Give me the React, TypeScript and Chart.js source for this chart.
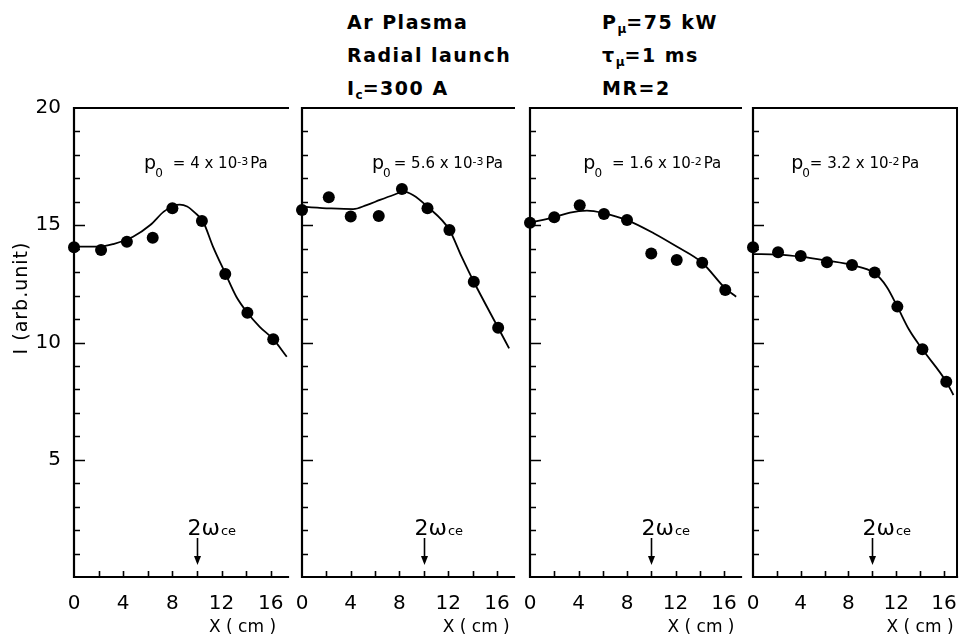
import React, { useEffect, useRef } from 'react';
import { Chart, registerables } from 'chart.js';

Chart.register(...registerables);

const FONT = '"DejaVu Sans", sans-serif';

// ---- axes ----
const X_TICKS = [0, 2, 4, 6, 8, 10, 12, 14, 16];
const Y_LABEL_TICKS = [5, 10, 15, 20];
const Y_MIN = 0;
const Y_MAX = 20;
const X_TITLE = 'X ( cm )';
const Y_TITLE = 'I (arb.unit)';
const RES_X = 10; // 2ωce position (cm)

// ---- panel 1 : p0 = 4 x 10^-3 Pa ----
const P1_X = [0, 2.2, 4.3, 6.4, 8.0, 10.4, 12.3, 14.1, 16.2];
const P1_Y = [14.06, 13.94, 14.3, 14.47, 15.72, 15.18, 12.92, 11.27, 10.14];
const P1_CX = [0, 2.1, 3.2, 4.8, 6.2, 7.3, 8.1, 8.6, 9.2, 9.8, 10.5, 11.3, 12.3, 13.2, 14.1, 15.1, 16.2, 17.3];
const P1_CY = [14.09, 14.09, 14.2, 14.51, 15.01, 15.58, 15.83, 15.88, 15.8, 15.55, 15.15, 14.09, 12.95, 11.95, 11.27, 10.67, 10.14, 9.39];

// ---- panel 2 : p0 = 5.6 x 10^-3 Pa ----
const P2_X = [0, 2.2, 4.0, 6.3, 8.2, 10.3, 12.1, 14.1, 16.1];
const P2_Y = [15.65, 16.19, 15.37, 15.39, 16.55, 15.72, 14.8, 12.59, 10.63];
const P2_CX = [0, 2.3, 4.2, 5.3, 6.4, 7.5, 8.3, 9.1, 10.3, 12.1, 13.1, 14.1, 16.1, 17.0];
const P2_CY = [15.79, 15.72, 15.69, 15.86, 16.08, 16.29, 16.43, 16.29, 15.79, 14.8, 13.66, 12.59, 10.63, 9.75];

// ---- panel 3 : p0 = 1.6 x 10^-2 Pa ----
const P3_X = [0, 2.0, 4.1, 6.1, 8.0, 10.0, 12.1, 14.2, 16.1];
const P3_Y = [15.11, 15.34, 15.85, 15.48, 15.22, 13.8, 13.52, 13.4, 12.24];
const P3_CX = [0, 2.0, 3.3, 4.7, 6.1, 8.0, 10.2, 12.1, 14.2, 16.1, 17.0];
const P3_CY = [15.11, 15.34, 15.54, 15.62, 15.51, 15.22, 14.66, 14.09, 13.4, 12.31, 11.95];

// ---- panel 4 : p0 = 3.2 x 10^-2 Pa ----
const P4_X = [0, 2.1, 4.0, 6.2, 8.3, 10.2, 12.1, 14.2, 16.2];
const P4_Y = [14.06, 13.85, 13.69, 13.42, 13.3, 12.99, 11.53, 9.71, 8.33];
const P4_CX = [0, 2.1, 4.0, 6.2, 8.3, 10.2, 11.2, 12.1, 13.1, 14.2, 16.2, 16.8];
const P4_CY = [13.77, 13.75, 13.66, 13.49, 13.3, 12.95, 12.38, 11.53, 10.53, 9.71, 8.33, 7.76];

const PRESSURE_MANT = ['4', '5.6', '1.6', '3.2'];
const PRESSURE_EXP = ['-3', '-3', '-2', '-2'];

const POINTS_X = [P1_X, P2_X, P3_X, P4_X];
const POINTS_Y = [P1_Y, P2_Y, P3_Y, P4_Y];
const CURVE_X = [P1_CX, P2_CX, P3_CX, P4_CX];
const CURVE_Y = [P1_CY, P2_CY, P3_CY, P4_CY];

// ---- layout (pixels) ----
const PANELS = [
  { left: 74, right: 288, xMax: 17.4, canvasLeft: 0, canvasWidth: 300, showY: true, labelX: 5.7, labelGap: 10, titleX: 13.7, rightBorder: false },
  { left: 302, right: 514, xMax: 17.4, canvasLeft: 282, canvasWidth: 245, showY: false, labelX: 5.75, labelGap: 3, titleX: 14.3, rightBorder: false },
  { left: 530, right: 741, xMax: 17.4, canvasLeft: 510, canvasWidth: 243, showY: false, labelX: 4.4, labelGap: 10, titleX: 14.1, rightBorder: false },
  { left: 753, right: 962, xMax: 17.1, canvasLeft: 733, canvasWidth: 231, showY: false, labelX: 3.2, labelGap: 0, titleX: 14.0, rightBorder: true },
];
const PLOT_TOP = 108;
const PLOT_BOTTOM = 577;
const H = 637;
const LABEL_Y = 17.44;

const decorPlugin = {
  id: 'decor',
  beforeDatasetsDraw(chart: any, _args: any, opts: any) {
    const { ctx, chartArea: a, scales } = chart;
    const x = scales.x, y = scales.y;
    ctx.save();
    ctx.strokeStyle = '#000';
    ctx.lineCap = 'square';
    ctx.lineWidth = 2.2;
    ctx.beginPath();
    ctx.moveTo(a.left, a.top);
    ctx.lineTo(a.left, a.bottom);
    ctx.lineTo(a.right, a.bottom);
    ctx.stroke();
    ctx.lineWidth = 2;
    ctx.beginPath();
    ctx.moveTo(a.left, a.top);
    ctx.lineTo(a.right, a.top);
    if (opts.rightBorder) ctx.lineTo(a.right, a.bottom);
    ctx.stroke();
    ctx.lineCap = 'butt';
    ctx.lineWidth = 1.6;
    ctx.beginPath();
    for (let v = Y_MIN + 1; v < Y_MAX; v++) {
      const py = Math.round(y.getPixelForValue(v)) + 0.5;
      const len = v % 5 === 0 ? 11 : 6;
      ctx.moveTo(a.left, py);
      ctx.lineTo(a.left + len, py);
    }
    for (const v of X_TICKS) {
      if (v === 0) continue;
      const px = Math.round(x.getPixelForValue(v)) + 0.5;
      ctx.moveTo(px, a.bottom);
      ctx.lineTo(px, a.bottom - 6);
    }
    ctx.stroke();
    ctx.restore();
  },
  afterDraw(chart: any, _args: any, opts: any) {
    const { ctx, scales } = chart;
    const x = scales.x, y = scales.y;
    ctx.save();
    ctx.fillStyle = '#000';
    ctx.strokeStyle = '#000';
    ctx.textBaseline = 'alphabetic';
    ctx.textAlign = 'left';

    // pressure label
    let px = x.getPixelForValue(opts.labelX);
    const by = y.getPixelForValue(LABEL_Y);
    ctx.font = `19px ${FONT}`;
    ctx.fillText('p', px, by + 1);
    px += ctx.measureText('p').width - 1;
    ctx.font = `12px ${FONT}`;
    ctx.fillText('0', px, by + 9);
    px += ctx.measureText('0').width + opts.labelGap;
    ctx.font = `15px ${FONT}`;
    const main = '= ' + opts.mant + ' x 10';
    ctx.fillText(main, px, by);
    px += ctx.measureText(main).width;
    ctx.font = `11px ${FONT}`;
    ctx.fillText(opts.exp, px, by - 3);
    px += ctx.measureText(opts.exp).width + 2;
    ctx.font = `15px ${FONT}`;
    ctx.fillText('Pa', px, by);

    // 2ωce arrow
    const ax = Math.round(x.getPixelForValue(RES_X)) + 0.5;
    const tipY = PLOT_BOTTOM - 12;
    ctx.lineWidth = 1.6;
    ctx.beginPath();
    ctx.moveTo(ax, PLOT_BOTTOM - 39);
    ctx.lineTo(ax, tipY - 4);
    ctx.stroke();
    ctx.beginPath();
    ctx.moveTo(ax - 3.5, tipY - 9);
    ctx.lineTo(ax + 3.5, tipY - 9);
    ctx.lineTo(ax, tipY);
    ctx.closePath();
    ctx.fill();
    let tx = ax - 10;
    const tb = PLOT_BOTTOM - 42;
    ctx.font = `22px ${FONT}`;
    ctx.fillText('2', tx, tb);
    tx += ctx.measureText('2').width;
    ctx.fillText('ω', tx, tb);
    tx += ctx.measureText('ω').width + 1;
    ctx.font = `13px ${FONT}`;
    ctx.fillText('ce', tx, tb);

    // x title
    ctx.font = `17px ${FONT}`;
    ctx.textAlign = 'center';
    ctx.fillText(X_TITLE, x.getPixelForValue(opts.titleX), 632);

    // y title
    if (opts.showY) {
      ctx.save();
      ctx.translate(27, 298);
      ctx.rotate(-Math.PI / 2);
      ctx.font = `19px ${FONT}`;
      (ctx as any).letterSpacing = '1px';
      ctx.textAlign = 'center';
      ctx.fillText(Y_TITLE, 0, 0);
      ctx.restore();
    }
    ctx.restore();
  },
};

function Panel({ index }: { index: number }) {
  const ref = useRef<HTMLCanvasElement | null>(null);
  const p = PANELS[index];
  useEffect(() => {
    if (!ref.current) return;
    const pts = POINTS_X[index].map((v, i) => ({ x: v, y: POINTS_Y[index][i] }));
    const curve = CURVE_X[index].map((v, i) => ({ x: v, y: CURVE_Y[index][i] }));
    const padLeft = p.left - p.canvasLeft - (p.showY ? 74 : 0);
    const padRight = p.canvasLeft + p.canvasWidth - p.right;
    const chart = new Chart(ref.current, {
      type: 'scatter',
      data: {
        datasets: [
          {
            data: curve,
            showLine: true,
            borderColor: '#000',
            borderWidth: 1.8,
            pointRadius: 0,
            cubicInterpolationMode: 'monotone',
            fill: false,
            clip: false,
          } as any,
          {
            data: pts,
            showLine: false,
            pointRadius: 6,
            pointBackgroundColor: '#000',
            pointBorderColor: '#000',
            pointBorderWidth: 0,
            clip: false,
          } as any,
        ],
      },
      options: {
        responsive: false,
        animation: false,
        events: [],
        layout: { padding: { left: padLeft, right: padRight, top: PLOT_TOP, bottom: 0 } },
        plugins: {
          legend: { display: false },
          tooltip: { enabled: false },
          decor: {
            labelX: p.labelX,
            labelGap: p.labelGap,
            titleX: p.titleX,
            rightBorder: p.rightBorder,
            showY: p.showY,
            mant: PRESSURE_MANT[index],
            exp: PRESSURE_EXP[index],
          },
        } as any,
        scales: {
          x: {
            type: 'linear',
            min: 0,
            max: p.xMax,
            grid: { display: false },
            border: { display: false },
            afterBuildTicks: (s: any) => {
              s.ticks = X_TICKS.map((v) => ({ value: v }));
            },
            afterFit: (s: any) => {
              s.height = H - PLOT_BOTTOM;
            },
            ticks: {
              autoSkip: false,
              maxRotation: 0,
              minRotation: 0,
              padding: 7,
              color: '#000',
              font: { family: FONT, size: 20 },
              callback: (v: any) => (Number(v) % 4 === 0 ? String(v) : ''),
            },
          },
          y: {
            type: 'linear',
            min: Y_MIN,
            max: Y_MAX,
            grid: { display: false },
            border: { display: false },
            afterBuildTicks: (s: any) => {
              s.ticks = Y_LABEL_TICKS.map((v) => ({ value: v }));
            },
            afterFit: (s: any) => {
              s.width = p.showY ? 74 : 0;
            },
            ticks: {
              display: p.showY,
              padding: 5,
              color: '#000',
              font: { family: FONT, size: 20 },
            },
          },
        },
      } as any,
      plugins: [decorPlugin as any],
    });
    return () => chart.destroy();
  }, [index]);
  return (
    <canvas
      ref={ref}
      width={p.canvasWidth}
      height={H}
      style={{ position: 'absolute', left: p.canvasLeft, top: 0, width: p.canvasWidth, height: H }}
    />
  );
}

const titleStyle: React.CSSProperties = {
  position: 'absolute',
  fontFamily: FONT,
  fontWeight: 'bold',
  fontSize: 19,
  lineHeight: '19px',
  letterSpacing: '1.5px',
  color: '#000',
  whiteSpace: 'nowrap',
};
const subStyle: React.CSSProperties = { fontSize: 12, verticalAlign: -4, letterSpacing: 0 };

export default function App() {
  return (
    <div style={{ position: 'absolute', left: 0, top: 0, width: 964, height: 637, background: '#fff', overflow: 'hidden' }}>
      <div style={{ ...titleStyle, left: 347, top: 13 }}>Ar Plasma</div>
      <div style={{ ...titleStyle, left: 347, top: 46 }}>Radial launch</div>
      <div style={{ ...titleStyle, left: 347, top: 79 }}>
        I<span style={subStyle}>c</span>=300 A
      </div>
      <div style={{ ...titleStyle, left: 602, top: 13 }}>
        P<span style={subStyle}>μ</span>=75 kW
      </div>
      <div style={{ ...titleStyle, left: 602, top: 46 }}>
        τ<span style={subStyle}>μ</span>=1 ms
      </div>
      <div style={{ ...titleStyle, left: 602, top: 79 }}>MR=2</div>
      {PANELS.map((_, i) => (
        <Panel key={i} index={i} />
      ))}
    </div>
  );
}
